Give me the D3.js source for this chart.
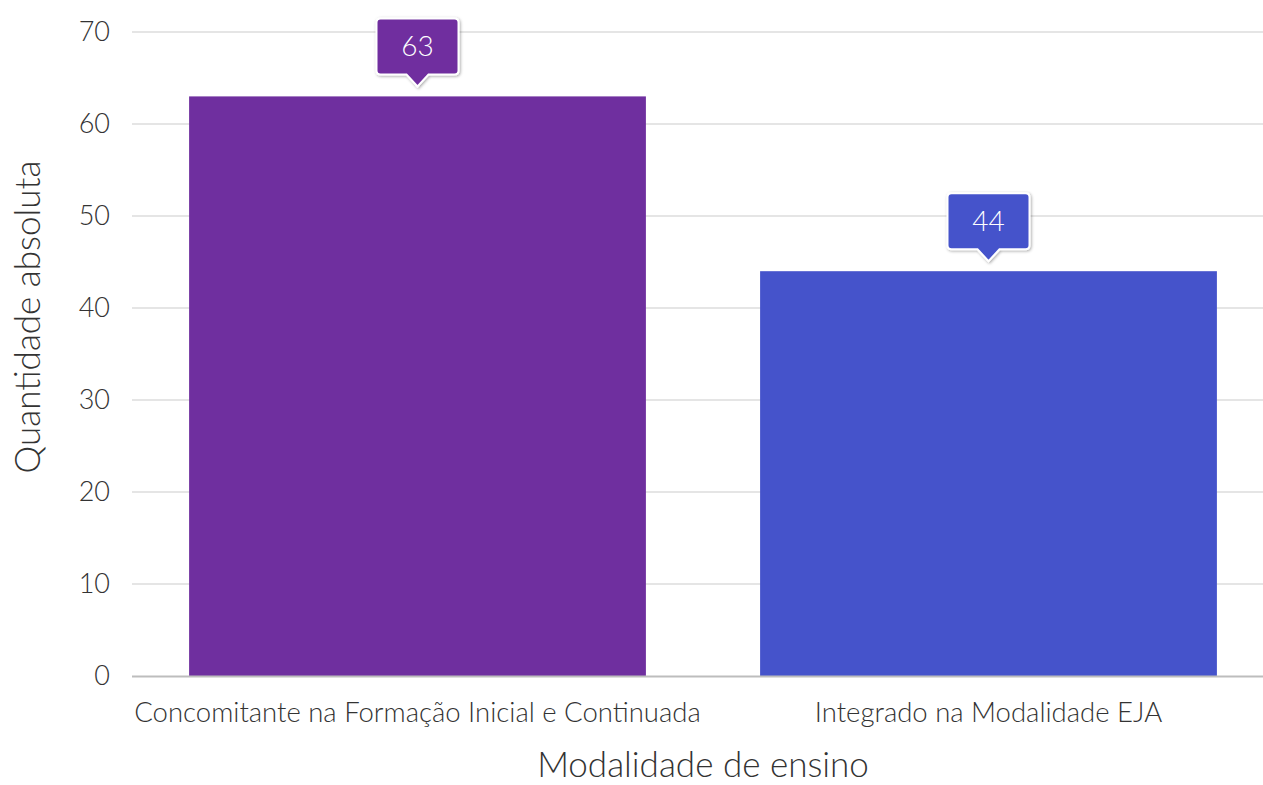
<!DOCTYPE html>
<html><head><meta charset="utf-8">
<script src="https://cdn.jsdelivr.net/npm/d3@7"></script>
<style>
html,body{margin:0;padding:0;background:#fff;}
svg{display:block;font-family:"Lato Light",Lato,sans-serif;font-weight:300;}
</style></head>
<body><svg id="c" width="1263" height="785"></svg>
<script>
const categories = ["Concomitante na Formação Inicial e Continuada", "Integrado na Modalidade EJA"];
const values = [63, 44];
const colors = ["#6f2f9f", "#4553cb"];
const yTicks = [0, 10, 20, 30, 40, 50, 60, 70];
const xTitle = "Modalidade de ensino";
const yTitle = "Quantidade absoluta";

const svg = d3.select("#c");
const m = {left: 132, right: 1274, top: 32, bottom: 676};
const x = d3.scaleBand().domain(categories).range([m.left, m.right]).paddingInner(0.2).paddingOuter(0.1);
const y = d3.scaleLinear().domain([0, 70]).range([m.bottom, m.top]);

const defs = svg.append("defs");
const f = defs.append("filter").attr("id","sh").attr("x","-30%").attr("y","-30%").attr("width","160%").attr("height","160%");
f.append("feDropShadow").attr("dx",1).attr("dy",1).attr("stdDeviation",1.5).attr("flood-color","#000").attr("flood-opacity",0.35);

// gridlines
svg.append("g").selectAll("line").data(yTicks.filter(d=>d>0)).join("line")
  .attr("x1", m.left).attr("x2", m.right)
  .attr("y1", d=>y(d)).attr("y2", d=>y(d))
  .attr("stroke", "#dcdcdc").attr("stroke-width", 1.5);

// y tick labels
svg.append("g").selectAll("text").data(yTicks).join("text")
  .attr("x", 110).attr("y", d=>y(d)).attr("dy","0.35em")
  .attr("text-anchor","end").attr("font-size",27).attr("fill","#333")
  .text(d=>d);

// bars
svg.append("g").selectAll("rect").data(values).join("rect")
  .attr("x",(d,i)=>x(categories[i])).attr("width",x.bandwidth())
  .attr("y",d=>y(d)).attr("height",d=>y(0)-y(d))
  .attr("fill",(d,i)=>colors[i]);

// baseline
svg.append("line").attr("x1",m.left).attr("x2",m.right).attr("y1",y(0)+0.5).attr("y2",y(0)+0.5)
  .attr("stroke","#bdbdbd").attr("stroke-width",2);

// x labels
svg.append("g").selectAll("text").data(categories).join("text")
  .attr("x",d=>x(d)+x.bandwidth()/2).attr("y",722)
  .attr("text-anchor","middle").attr("font-size",27.5).attr("fill","#333").text(d=>d);

// titles
svg.append("text").attr("x",(m.left+m.right)/2).attr("y",777)
  .attr("text-anchor","middle").attr("font-size",35).attr("fill","#333").text(xTitle);
svg.append("text").attr("transform",`translate(40,317) rotate(-90)`)
  .attr("text-anchor","middle").attr("font-size",35).attr("fill","#333").text(yTitle);

// tooltips
const tips = svg.append("g").selectAll("g").data(values).join("g")
  .attr("transform",(d,i)=>`translate(${x(categories[i])+x.bandwidth()/2},${y(d)-10})`);
const w = 82, h = 56, ah = 12, aw = 11, r = 4;
tips.append("path")
  .attr("d", `M${-w/2+r},${-ah-h} H${w/2-r} Q${w/2},${-ah-h} ${w/2},${-ah-h+r} V${-ah-r} Q${w/2},${-ah} ${w/2-r},${-ah} H${aw} L0,0 L${-aw},${-ah} H${-w/2+r} Q${-w/2},${-ah} ${-w/2},${-ah-r} V${-ah-h+r} Q${-w/2},${-ah-h} ${-w/2+r},${-ah-h} Z`)
  .attr("fill",(d,i)=>colors[i]).attr("stroke","#fff").attr("stroke-width",2)
  .attr("filter","url(#sh)");
tips.append("text").attr("x",0).attr("y",-ah-h/2).attr("dy","0.35em")
  .attr("text-anchor","middle").attr("font-size",28).attr("fill","#fff").text(d=>d);
</script></body></html>
